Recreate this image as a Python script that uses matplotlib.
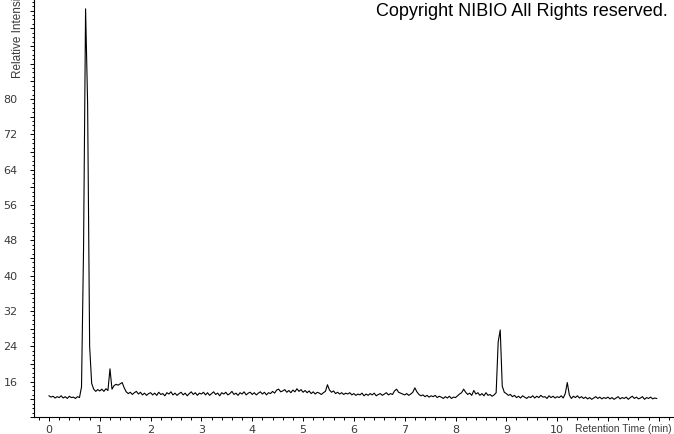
import numpy as np
import matplotlib
matplotlib.use("Agg")
from matplotlib import pyplot as plt
from matplotlib.ticker import MultipleLocator, FuncFormatter

# detector samples every 0.04 min, intensity (one row = one minute)
Step = 0.04
Intensity_0 = [12.8, 12.5, 12.7, 12.3, 12.6, 12.4, 12.8, 12.3, 12.6, 12.2, 12.7, 12.4, 12.5,
               12.2, 12.6, 12.4, 14.8, 46.0, 100.4, 79.0, 24.0, 15.6, 14.3, 13.8, 14.2]
Intensity_1 = [13.9, 14.3, 13.8, 14.4, 14.0, 18.9, 14.3, 15.1, 15.4, 15.2, 15.5, 15.8, 14.6,
               13.7, 13.3, 13.6, 13.1, 13.5, 13.8, 13.2, 13.6, 13.0, 13.4, 12.9, 13.3]
Intensity_2 = [13.5, 13.0, 13.4, 12.9, 13.6, 13.1, 13.3, 12.8, 13.5, 13.2, 13.7, 13.0, 13.4,
               12.9, 13.3, 13.6, 13.0, 13.4, 12.8, 13.3, 13.7, 13.1, 13.5, 12.9, 13.4]
Intensity_3 = [13.2, 13.6, 13.0, 13.5, 12.9, 13.3, 13.7, 13.1, 13.4, 12.8, 13.5, 13.2, 13.6,
               13.0, 13.3, 13.8, 13.1, 13.4, 12.9, 13.5, 13.2, 13.7, 13.0, 13.4, 13.6]
Intensity_4 = [13.1, 13.5, 13.0, 13.4, 13.7, 13.2, 13.6, 13.0, 13.5, 13.3, 13.8, 13.4, 14.1,
               14.3, 13.7, 13.9, 14.2, 13.6, 14.0, 13.5, 14.1, 13.7, 14.4, 13.8, 14.2]
Intensity_5 = [13.6, 14.0, 13.5, 13.9, 13.3, 13.7, 13.2, 13.6, 13.4, 13.1, 13.5, 13.8, 15.3,
               14.1, 13.6, 13.9, 13.3, 13.6, 13.2, 13.5, 13.1, 13.4, 13.2, 13.5, 13.0]
Intensity_6 = [13.3, 12.9, 13.2, 13.0, 13.4, 12.8, 13.2, 12.9, 13.3, 13.0, 13.4, 12.8, 13.1,
               13.3, 12.9, 13.2, 13.5, 13.0, 13.3, 13.1, 13.9, 14.3, 13.6, 13.4, 13.2]
Intensity_7 = [13.0, 13.3, 12.9, 13.2, 13.6, 14.6, 13.7, 13.1, 12.8, 13.0, 12.6, 12.9, 12.5,
               12.8, 12.6, 12.9, 12.4, 12.7, 12.5, 12.2, 12.6, 12.3, 12.7, 12.2, 12.5]
Intensity_8 = [12.4, 12.8, 13.2, 13.5, 14.3, 13.6, 13.1, 13.4, 12.9, 14.0, 13.2, 13.5, 12.9,
               13.3, 12.8, 13.5, 12.9, 13.1, 12.7, 13.0, 13.5, 25.0, 27.7, 15.0, 13.6]
Intensity_9 = [13.3, 12.9, 13.1, 12.6, 12.9, 12.4, 12.7, 12.3, 12.8, 12.5, 12.2, 12.6, 12.4,
               12.8, 12.3, 12.7, 12.4, 12.9, 12.5, 12.6, 12.2, 12.8, 12.4, 12.7, 12.3]
Intensity_10 = [12.6, 12.4, 12.8, 12.3, 13.3, 15.8, 13.0, 12.2, 12.7, 12.4, 12.8, 12.3, 12.6,
                12.2, 12.5, 12.1, 12.4, 12.0, 12.3, 12.6, 12.2, 12.5, 12.1, 12.4, 12.2]
Intensity_11 = [12.5, 12.1, 12.4, 12.0, 12.3, 12.6, 12.1, 12.4, 12.2, 12.5, 12.0, 12.4, 12.7,
                12.2, 12.5, 12.1, 12.3, 12.6, 12.0, 12.4, 12.2, 12.5, 12.1, 12.3, 12.2]

Intensity = np.array(Intensity_0 + Intensity_1 + Intensity_2 + Intensity_3 + Intensity_4 +
                     Intensity_5 + Intensity_6 + Intensity_7 + Intensity_8 + Intensity_9 +
                     Intensity_10 + Intensity_11)
Time = np.arange(len(Intensity)) * Step

X_Labels = list(range(0, 11))
Y_Labels = list(range(16, 81, 8))

Grey = '#3a3a3a'

Fig = plt.figure(figsize=(6.74, 4.34), dpi=100)
Ax = Fig.add_axes([34 / 674, 17 / 434, 1 - 34 / 674, 1 - 17 / 434])
Ax.plot(Time, Intensity, color='black', lw=0.8)

Ax.set_xlim(-0.295, 12.3)
Ax.set_ylim(8, 102.4)

for s in ['top', 'right']:
    Ax.spines[s].set_visible(False)
Ax.spines['left'].set_linewidth(0.8)
Ax.spines['bottom'].set_linewidth(0.8)

Ax.xaxis.set_major_locator(MultipleLocator(1))
Ax.xaxis.set_minor_locator(MultipleLocator(0.2))
Ax.xaxis.set_major_formatter(FuncFormatter(lambda v, p: '%d' % round(v) if round(v) in X_Labels else ''))
Ax.yaxis.set_major_locator(MultipleLocator(4))
Ax.yaxis.set_minor_locator(MultipleLocator(1))
Ax.yaxis.set_major_formatter(FuncFormatter(lambda v, p: '%d' % round(v) if round(v) in Y_Labels else ''))

Ax.tick_params(axis='x', which='major', length=3, width=0.7, pad=3, labelsize=8, labelcolor=Grey)
Ax.tick_params(axis='x', which='minor', length=2, width=0.7)
Ax.tick_params(axis='y', which='major', length=3, width=0.7, pad=9, labelsize=8, labelcolor=Grey)
Ax.tick_params(axis='y', which='minor', length=1.5, width=0.7)

# axis titles sit in odd places on this instrument export
Fig.text(18 / 674, 1 - 78 / 434, 'Relative Intensity', rotation=90, ha='center', va='bottom',
         fontsize=8.5, family='Liberation Sans', color=Grey)
Fig.text(672 / 674, 1 - 429 / 434, 'Retention Time (min)', ha='right', va='center',
         fontsize=7.5, family='Liberation Sans', color=Grey)
Fig.text(668 / 674, 1 - 3 / 434, 'Copyright NIBIO All Rights reserved.', ha='right', va='top',
         fontsize=13, family='Liberation Sans', color='black')

Fig.savefig('out.png', dpi=100)
